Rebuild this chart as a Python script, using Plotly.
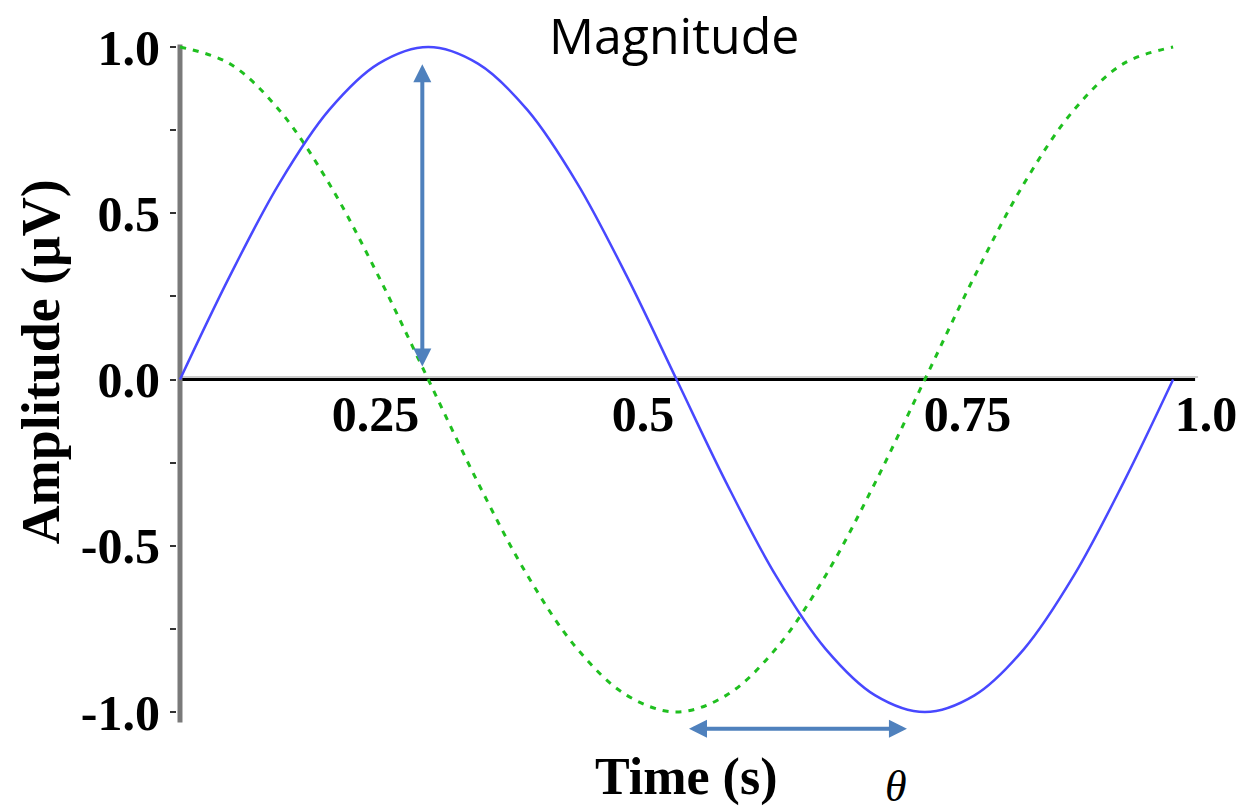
import plotly.graph_objects as go

# ---------------- data ----------------
time_s = [0.0, 0.05, 0.10, 0.15, 0.20, 0.25, 0.30, 0.35, 0.40, 0.45, 0.50,
          0.55, 0.60, 0.65, 0.70, 0.75, 0.80, 0.85, 0.90, 0.95, 1.0]
blue_wave = [0.0, 0.31, 0.59, 0.81, 0.95, 1.0, 0.95, 0.81, 0.59, 0.31, 0.0,
             -0.31, -0.59, -0.81, -0.95, -1.0, -0.95, -0.81, -0.59, -0.31, 0.0]
green_wave = [1.0, 0.95, 0.81, 0.59, 0.31, 0.0, -0.31, -0.59, -0.81, -0.95, -1.0,
              -0.95, -0.81, -0.59, -0.31, 0.0, 0.31, 0.59, 0.81, 0.95, 1.0]
y_tick_vals = [-1.0, -0.5, 0.0, 0.5, 1.0]
y_tick_text = ["-1.0", "-0.5", "0.0", "0.5", "1.0"]
y_minor_vals = [-0.75, -0.25, 0.25, 0.75]
x_tick_text = ["0.25", "0.5", "0.75", "1.0"]
magnitude_arrow = {"x": 0.244, "y_from": 0.953, "y_to": 0.039}
phase_arrow = {"y": -1.05, "x_from": 0.511, "x_to": 0.732}
title_text = "Magnitude"
y_title = "Amplitude (μV)"
x_title = "Time (s)"
phase_label = "θ"

# ---------------- layout geometry ----------------
W, H = 1247, 810
AXIS_PX = 180          # pixel column of time = 0
L, R, T, B = 177, 10, 40, 20
X_PX = 995.0   # pixels per unit of time
Y_PX = 332.5   # pixels per unit of amplitude
XMIN = -(AXIS_PX - L) / X_PX
XMAX = (W - R - AXIS_PX) / X_PX
YMAX = 1 + (47 - T) / Y_PX
YMIN = -1 - (H - B - 712) / Y_PX
PW, PH = W - L - R, H - T - B

# where the reference prints its x tick labels (label centres)
x_tick_pos = [(px - AXIS_PX) / X_PX for px in (376, 644, 969, 1208)]


def px_x(px):
    return (px - L) / PW


def px_y(py):
    return (H - B - py) / PH


SERIF = "Liberation Serif"
ARROW = "#4f81bd"

fig = go.Figure()
fig.add_trace(go.Scatter(x=time_s, y=green_wave, mode="lines", line_shape="spline",
                         line=dict(color="#1fbf1f", width=3, dash="6px,7px"),
                         showlegend=False, hoverinfo="skip"))
fig.add_trace(go.Scatter(x=time_s, y=blue_wave, mode="lines", line_shape="spline",
                         line=dict(color="#4848ff", width=2.5),
                         showlegend=False, hoverinfo="skip"))

shapes = [
    # light shadow above the horizontal axis
    dict(type="line", xref="x", yref="y", x0=0, x1=(1200 - AXIS_PX) / X_PX,
         y0=2.5 / Y_PX, y1=2.5 / Y_PX, line=dict(color="#cccccc", width=2), layer="below"),
    # horizontal axis
    dict(type="line", xref="x", yref="y", x0=0, x1=(1197 - AXIS_PX) / X_PX, y0=0, y1=0,
         line=dict(color="black", width=3), layer="below"),
    # vertical axis
    dict(type="line", xref="x", yref="y", x0=0, x1=0, y0=-(723 - 380) / Y_PX, y1=(380 - 45) / Y_PX,
         line=dict(color="#7a7a7a", width=5), layer="below"),
]

annotations = [
    dict(text=title_text, xref="paper", yref="paper", x=px_x(675), y=px_y(35),
         showarrow=False, font=dict(family="Open Sans", size=50, color="black"),
         xanchor="center", yanchor="middle"),
    dict(text=y_title, xref="paper", yref="paper", x=px_x(41), y=px_y(362),
         showarrow=False, textangle=-90,
         font=dict(family=SERIF, size=54, color="black", weight="bold"),
         xanchor="center", yanchor="middle"),
    dict(text=x_title, xref="paper", yref="paper", x=px_x(687), y=px_y(777),
         showarrow=False, font=dict(family=SERIF, size=52, color="black", weight="bold"),
         xanchor="center", yanchor="middle"),
    dict(text=phase_label, xref="paper", yref="paper", x=px_x(897), y=px_y(786),
         showarrow=False, font=dict(family=SERIF, size=44, color="black", style="italic"),
         xanchor="center", yanchor="middle"),
    dict(text="", xref="x", yref="y", axref="x", ayref="y",
         x=magnitude_arrow["x"], y=magnitude_arrow["y_to"],
         ax=magnitude_arrow["x"], ay=magnitude_arrow["y_from"],
         showarrow=True, arrowside="end+start", arrowhead=2, arrowsize=0.9,
         arrowwidth=4, arrowcolor=ARROW, standoff=0, startstandoff=0),
    dict(text="", xref="x", yref="y", axref="x", ayref="y",
         x=phase_arrow["x_to"], y=phase_arrow["y"],
         ax=phase_arrow["x_from"], ay=phase_arrow["y"],
         showarrow=True, arrowside="end+start", arrowhead=2, arrowsize=0.9,
         arrowwidth=4, arrowcolor=ARROW, standoff=0, startstandoff=0),
]

fig.update_layout(
    width=W, height=H,
    margin=dict(l=L, r=R, t=T, b=B, pad=0),
    paper_bgcolor="white", plot_bgcolor="white",
    shapes=shapes, annotations=annotations,
    xaxis=dict(range=[XMIN, XMAX], showgrid=False, zeroline=False, showline=False,
               anchor="free", position=(0 - YMIN) / (YMAX - YMIN),
               tickmode="array", tickvals=x_tick_pos, ticktext=x_tick_text,
               ticks="", ticklabelstandoff=0,
               tickfont=dict(family=SERIF, size=50, color="black", weight="bold")),
    yaxis=dict(range=[YMIN, YMAX], showgrid=False, zeroline=False, showline=False,
               tickmode="array", tickvals=y_tick_vals, ticktext=y_tick_text,
               ticks="outside", ticklen=6, tickwidth=2, tickcolor="#333333",
               ticklabelstandoff=0,
               minor=dict(tickmode="array", tickvals=y_minor_vals, ticks="outside",
                          ticklen=6, tickwidth=2, tickcolor="#333333"),
               tickfont=dict(family=SERIF, size=50, color="black", weight="bold")),
)

fig.write_html("out.html")
